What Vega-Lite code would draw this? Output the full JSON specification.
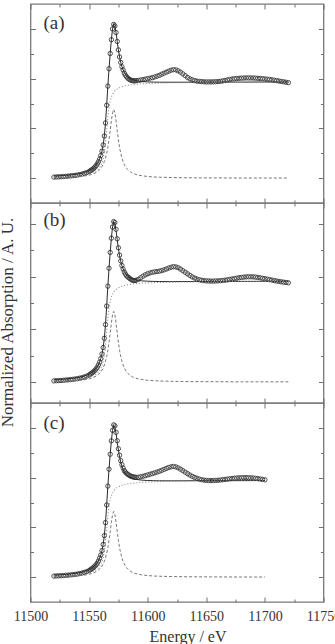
{
"$schema":"https://vega.github.io/schema/vega-lite/v6.json",
"padding":{"left":-3.5,"top":2,"right":0,"bottom":0},
"spacing":0,
"bounds":"flush",
"config":{"font":"Liberation Serif","view":{"stroke":"#7a7a7a","strokeWidth":1.3},"axis":{"labelFont":"Liberation Serif","titleFont":"Liberation Serif"}},
"datasets":{
"pts":[
{"p":"a","E":11520,"m":0.010},{"p":"a","E":11522,"m":0.012},{"p":"a","E":11524,"m":0.013},{"p":"a","E":11526,"m":0.014},{"p":"a","E":11528,"m":0.016},{"p":"a","E":11530,"m":0.018},{"p":"a","E":11532,"m":0.020},{"p":"a","E":11534,"m":0.022},{"p":"a","E":11536,"m":0.025},{"p":"a","E":11538,"m":0.028},{"p":"a","E":11540,"m":0.031},{"p":"a","E":11542,"m":0.036},{"p":"a","E":11544,"m":0.041},{"p":"a","E":11546,"m":0.048},{"p":"a","E":11548,"m":0.056},{"p":"a","E":11550,"m":0.066},{"p":"a","E":11551,"m":0.074},{"p":"a","E":11552,"m":0.082},{"p":"a","E":11553,"m":0.090},{"p":"a","E":11554,"m":0.100},{"p":"a","E":11555,"m":0.112},
{"p":"a","E":11556,"m":0.126},{"p":"a","E":11557,"m":0.143},{"p":"a","E":11558,"m":0.165},{"p":"a","E":11559,"m":0.192},{"p":"a","E":11560,"m":0.227},{"p":"a","E":11561,"m":0.271},{"p":"a","E":11562,"m":0.333},{"p":"a","E":11563,"m":0.423},{"p":"a","E":11564,"m":0.555},{"p":"a","E":11565,"m":0.733},{"p":"a","E":11566,"m":0.925},{"p":"a","E":11567,"m":1.099},{"p":"a","E":11568,"m":1.252},{"p":"a","E":11569,"m":1.391},{"p":"a","E":11570,"m":1.500},{"p":"a","E":11571,"m":1.545},{"p":"a","E":11572,"m":1.530},{"p":"a","E":11573,"m":1.463},{"p":"a","E":11574,"m":1.373},{"p":"a","E":11575,"m":1.289},{"p":"a","E":11576,"m":1.218},{"p":"a","E":11577,"m":1.162},{"p":"a","E":11578,"m":1.120},{"p":"a","E":11579,"m":1.087},{"p":"a","E":11580,"m":1.055},{"p":"a","E":11581,"m":1.035},{"p":"a","E":11582,"m":1.018},{"p":"a","E":11583,"m":1.005},{"p":"a","E":11584,"m":0.995},{"p":"a","E":11585,"m":0.988},{"p":"a","E":11586,"m":0.983},{"p":"a","E":11587,"m":0.980},{"p":"a","E":11588,"m":0.978},{"p":"a","E":11589,"m":0.978},{"p":"a","E":11590,"m":0.979},
{"p":"a","E":11592,"m":0.982},{"p":"a","E":11594,"m":0.986},{"p":"a","E":11596,"m":0.990},{"p":"a","E":11598,"m":0.995},{"p":"a","E":11600,"m":1.000},{"p":"a","E":11602,"m":1.005},{"p":"a","E":11604,"m":1.010},{"p":"a","E":11606,"m":1.017},{"p":"a","E":11608,"m":1.025},{"p":"a","E":11610,"m":1.033},{"p":"a","E":11612,"m":1.045},{"p":"a","E":11614,"m":1.055},{"p":"a","E":11616,"m":1.065},{"p":"a","E":11618,"m":1.075},{"p":"a","E":11620,"m":1.085},{"p":"a","E":11622,"m":1.090},{"p":"a","E":11624,"m":1.088},{"p":"a","E":11626,"m":1.078},{"p":"a","E":11628,"m":1.065},{"p":"a","E":11630,"m":1.048},{"p":"a","E":11632,"m":1.030},{"p":"a","E":11634,"m":1.012},{"p":"a","E":11636,"m":0.998},{"p":"a","E":11638,"m":0.988},{"p":"a","E":11640,"m":0.980},{"p":"a","E":11642,"m":0.975},{"p":"a","E":11644,"m":0.972},{"p":"a","E":11646,"m":0.970},{"p":"a","E":11648,"m":0.968},{"p":"a","E":11650,"m":0.967},{"p":"a","E":11652,"m":0.967},{"p":"a","E":11654,"m":0.967},{"p":"a","E":11656,"m":0.968},{"p":"a","E":11658,"m":0.969},{"p":"a","E":11660,"m":0.970},{"p":"a","E":11662,"m":0.973},{"p":"a","E":11664,"m":0.977},{"p":"a","E":11666,"m":0.982},{"p":"a","E":11668,"m":0.987},{"p":"a","E":11670,"m":0.992},{"p":"a","E":11672,"m":0.996},{"p":"a","E":11674,"m":0.999},{"p":"a","E":11676,"m":1.001},{"p":"a","E":11678,"m":1.003},{"p":"a","E":11680,"m":1.005},{"p":"a","E":11682,"m":1.006},{"p":"a","E":11684,"m":1.007},{"p":"a","E":11686,"m":1.007},{"p":"a","E":11688,"m":1.007},{"p":"a","E":11690,"m":1.006},{"p":"a","E":11692,"m":1.005},{"p":"a","E":11694,"m":1.003},{"p":"a","E":11696,"m":1.001},{"p":"a","E":11698,"m":0.999},{"p":"a","E":11700,"m":0.997},{"p":"a","E":11702,"m":0.994},{"p":"a","E":11704,"m":0.991},{"p":"a","E":11706,"m":0.988},{"p":"a","E":11708,"m":0.984},{"p":"a","E":11710,"m":0.980},{"p":"a","E":11712,"m":0.976},{"p":"a","E":11714,"m":0.972},{"p":"a","E":11716,"m":0.968},{"p":"a","E":11718,"m":0.964},{"p":"a","E":11720,"m":0.960},
{"p":"b","E":11520,"m":0.010},{"p":"b","E":11522,"m":0.012},{"p":"b","E":11524,"m":0.013},{"p":"b","E":11526,"m":0.014},{"p":"b","E":11528,"m":0.016},{"p":"b","E":11530,"m":0.018},{"p":"b","E":11532,"m":0.020},{"p":"b","E":11534,"m":0.022},{"p":"b","E":11536,"m":0.025},{"p":"b","E":11538,"m":0.028},{"p":"b","E":11540,"m":0.031},{"p":"b","E":11542,"m":0.036},{"p":"b","E":11544,"m":0.041},{"p":"b","E":11546,"m":0.048},{"p":"b","E":11548,"m":0.056},{"p":"b","E":11550,"m":0.066},{"p":"b","E":11551,"m":0.074},{"p":"b","E":11552,"m":0.082},{"p":"b","E":11553,"m":0.090},{"p":"b","E":11554,"m":0.100},{"p":"b","E":11555,"m":0.111},
{"p":"b","E":11556,"m":0.124},{"p":"b","E":11557,"m":0.140},{"p":"b","E":11558,"m":0.162},{"p":"b","E":11559,"m":0.188},{"p":"b","E":11560,"m":0.222},{"p":"b","E":11561,"m":0.266},{"p":"b","E":11562,"m":0.327},{"p":"b","E":11563,"m":0.415},{"p":"b","E":11564,"m":0.545},{"p":"b","E":11565,"m":0.721},{"p":"b","E":11566,"m":0.910},{"p":"b","E":11567,"m":1.080},{"p":"b","E":11568,"m":1.230},{"p":"b","E":11569,"m":1.366},{"p":"b","E":11570,"m":1.472},{"p":"b","E":11571,"m":1.523},{"p":"b","E":11572,"m":1.515},{"p":"b","E":11573,"m":1.450},{"p":"b","E":11574,"m":1.360},{"p":"b","E":11575,"m":1.275},{"p":"b","E":11576,"m":1.205},{"p":"b","E":11577,"m":1.150},{"p":"b","E":11578,"m":1.106},{"p":"b","E":11579,"m":1.073},{"p":"b","E":11580,"m":1.045},{"p":"b","E":11581,"m":1.025},{"p":"b","E":11582,"m":1.008},{"p":"b","E":11583,"m":0.997},{"p":"b","E":11584,"m":0.990},{"p":"b","E":11585,"m":0.980},{"p":"b","E":11586,"m":0.972},{"p":"b","E":11587,"m":0.966},{"p":"b","E":11588,"m":0.963},{"p":"b","E":11589,"m":0.963},{"p":"b","E":11590,"m":0.966},
{"p":"b","E":11592,"m":0.975},{"p":"b","E":11594,"m":0.990},{"p":"b","E":11596,"m":1.005},{"p":"b","E":11598,"m":1.018},{"p":"b","E":11600,"m":1.028},{"p":"b","E":11602,"m":1.036},{"p":"b","E":11604,"m":1.042},{"p":"b","E":11606,"m":1.046},{"p":"b","E":11608,"m":1.049},{"p":"b","E":11610,"m":1.053},{"p":"b","E":11612,"m":1.058},{"p":"b","E":11614,"m":1.065},{"p":"b","E":11616,"m":1.073},{"p":"b","E":11618,"m":1.082},{"p":"b","E":11620,"m":1.090},{"p":"b","E":11622,"m":1.095},{"p":"b","E":11624,"m":1.093},{"p":"b","E":11626,"m":1.085},{"p":"b","E":11628,"m":1.072},{"p":"b","E":11630,"m":1.057},{"p":"b","E":11632,"m":1.042},{"p":"b","E":11634,"m":1.027},{"p":"b","E":11636,"m":1.012},{"p":"b","E":11638,"m":0.998},{"p":"b","E":11640,"m":0.987},{"p":"b","E":11642,"m":0.978},{"p":"b","E":11644,"m":0.971},{"p":"b","E":11646,"m":0.966},{"p":"b","E":11648,"m":0.962},{"p":"b","E":11650,"m":0.960},{"p":"b","E":11652,"m":0.959},{"p":"b","E":11654,"m":0.958},{"p":"b","E":11656,"m":0.958},{"p":"b","E":11658,"m":0.959},{"p":"b","E":11660,"m":0.960},{"p":"b","E":11662,"m":0.962},{"p":"b","E":11664,"m":0.964},{"p":"b","E":11666,"m":0.967},{"p":"b","E":11668,"m":0.970},{"p":"b","E":11670,"m":0.974},{"p":"b","E":11672,"m":0.978},{"p":"b","E":11674,"m":0.982},{"p":"b","E":11676,"m":0.986},{"p":"b","E":11678,"m":0.990},{"p":"b","E":11680,"m":0.993},{"p":"b","E":11682,"m":0.996},{"p":"b","E":11684,"m":0.998},{"p":"b","E":11686,"m":0.999},{"p":"b","E":11688,"m":0.999},{"p":"b","E":11690,"m":0.998},{"p":"b","E":11692,"m":0.996},{"p":"b","E":11694,"m":0.993},{"p":"b","E":11696,"m":0.989},{"p":"b","E":11698,"m":0.985},{"p":"b","E":11700,"m":0.981},{"p":"b","E":11702,"m":0.977},{"p":"b","E":11704,"m":0.972},{"p":"b","E":11706,"m":0.968},{"p":"b","E":11708,"m":0.963},{"p":"b","E":11710,"m":0.959},{"p":"b","E":11712,"m":0.955},{"p":"b","E":11714,"m":0.951},{"p":"b","E":11716,"m":0.948},{"p":"b","E":11718,"m":0.945},{"p":"b","E":11720,"m":0.942},
{"p":"c","E":11520,"m":0.010},{"p":"c","E":11522,"m":0.012},{"p":"c","E":11524,"m":0.013},{"p":"c","E":11526,"m":0.014},{"p":"c","E":11528,"m":0.016},{"p":"c","E":11530,"m":0.018},{"p":"c","E":11532,"m":0.020},{"p":"c","E":11534,"m":0.022},{"p":"c","E":11536,"m":0.025},{"p":"c","E":11538,"m":0.028},{"p":"c","E":11540,"m":0.031},{"p":"c","E":11542,"m":0.036},{"p":"c","E":11544,"m":0.041},{"p":"c","E":11546,"m":0.048},{"p":"c","E":11548,"m":0.056},{"p":"c","E":11550,"m":0.066},{"p":"c","E":11551,"m":0.074},{"p":"c","E":11552,"m":0.082},{"p":"c","E":11553,"m":0.090},{"p":"c","E":11554,"m":0.100},{"p":"c","E":11555,"m":0.112},
{"p":"c","E":11556,"m":0.125},{"p":"c","E":11557,"m":0.141},{"p":"c","E":11558,"m":0.163},{"p":"c","E":11559,"m":0.190},{"p":"c","E":11560,"m":0.223},{"p":"c","E":11561,"m":0.267},{"p":"c","E":11562,"m":0.328},{"p":"c","E":11563,"m":0.417},{"p":"c","E":11564,"m":0.548},{"p":"c","E":11565,"m":0.725},{"p":"c","E":11566,"m":0.915},{"p":"c","E":11567,"m":1.085},{"p":"c","E":11568,"m":1.235},{"p":"c","E":11569,"m":1.370},{"p":"c","E":11570,"m":1.475},{"p":"c","E":11571,"m":1.530},{"p":"c","E":11572,"m":1.520},{"p":"c","E":11573,"m":1.455},{"p":"c","E":11574,"m":1.370},{"p":"c","E":11575,"m":1.290},{"p":"c","E":11576,"m":1.225},{"p":"c","E":11577,"m":1.170},{"p":"c","E":11578,"m":1.130},{"p":"c","E":11579,"m":1.097},{"p":"c","E":11580,"m":1.070},{"p":"c","E":11581,"m":1.055},{"p":"c","E":11582,"m":1.043},{"p":"c","E":11583,"m":1.033},{"p":"c","E":11584,"m":1.025},{"p":"c","E":11585,"m":1.018},{"p":"c","E":11586,"m":1.013},{"p":"c","E":11587,"m":1.009},{"p":"c","E":11588,"m":1.006},{"p":"c","E":11589,"m":1.004},{"p":"c","E":11590,"m":1.003},
{"p":"c","E":11592,"m":1.004},{"p":"c","E":11594,"m":1.008},{"p":"c","E":11596,"m":1.014},{"p":"c","E":11598,"m":1.020},{"p":"c","E":11600,"m":1.027},{"p":"c","E":11602,"m":1.034},{"p":"c","E":11604,"m":1.041},{"p":"c","E":11606,"m":1.048},{"p":"c","E":11608,"m":1.056},{"p":"c","E":11610,"m":1.064},{"p":"c","E":11612,"m":1.073},{"p":"c","E":11614,"m":1.083},{"p":"c","E":11616,"m":1.093},{"p":"c","E":11618,"m":1.102},{"p":"c","E":11620,"m":1.109},{"p":"c","E":11622,"m":1.112},{"p":"c","E":11624,"m":1.108},{"p":"c","E":11626,"m":1.098},{"p":"c","E":11628,"m":1.085},{"p":"c","E":11630,"m":1.070},{"p":"c","E":11632,"m":1.055},{"p":"c","E":11634,"m":1.040},{"p":"c","E":11636,"m":1.026},{"p":"c","E":11638,"m":1.013},{"p":"c","E":11640,"m":1.002},{"p":"c","E":11642,"m":0.993},{"p":"c","E":11644,"m":0.985},{"p":"c","E":11646,"m":0.979},{"p":"c","E":11648,"m":0.975},{"p":"c","E":11650,"m":0.972},{"p":"c","E":11652,"m":0.971},{"p":"c","E":11654,"m":0.970},{"p":"c","E":11656,"m":0.971},{"p":"c","E":11658,"m":0.972},{"p":"c","E":11660,"m":0.974},{"p":"c","E":11662,"m":0.976},{"p":"c","E":11664,"m":0.979},{"p":"c","E":11666,"m":0.982},{"p":"c","E":11668,"m":0.985},{"p":"c","E":11670,"m":0.988},{"p":"c","E":11672,"m":0.991},{"p":"c","E":11674,"m":0.994},{"p":"c","E":11676,"m":0.996},{"p":"c","E":11678,"m":0.998},{"p":"c","E":11680,"m":0.999},{"p":"c","E":11682,"m":1.000},{"p":"c","E":11684,"m":1.000},{"p":"c","E":11686,"m":0.999},{"p":"c","E":11688,"m":0.998},{"p":"c","E":11690,"m":0.996},{"p":"c","E":11692,"m":0.993},{"p":"c","E":11694,"m":0.990},{"p":"c","E":11696,"m":0.986},{"p":"c","E":11698,"m":0.982},{"p":"c","E":11700,"m":0.978}
],
"fit":[
{"p":"a","E":11520,"f":0.020,"s":0.015,"k":0.005},{"p":"a","E":11525,"f":0.024,"s":0.017,"k":0.007},{"p":"a","E":11530,"f":0.028,"s":0.019,"k":0.008},{"p":"a","E":11535,"f":0.033,"s":0.023,"k":0.011},{"p":"a","E":11540,"f":0.041,"s":0.027,"k":0.014},{"p":"a","E":11545,"f":0.054,"s":0.034,"k":0.020},{"p":"a","E":11550,"f":0.075,"s":0.045,"k":0.030},{"p":"a","E":11552,"f":0.088,"s":0.052,"k":0.037},{"p":"a","E":11554,"f":0.106,"s":0.061,"k":0.045},{"p":"a","E":11556,"f":0.131,"s":0.074,"k":0.057},{"p":"a","E":11557,"f":0.147,"s":0.083,"k":0.065},{"p":"a","E":11558,"f":0.168,"s":0.094,"k":0.074},{"p":"a","E":11559,"f":0.193,"s":0.108,"k":0.085},{"p":"a","E":11560,"f":0.227,"s":0.128,"k":0.099},{"p":"a","E":11561,"f":0.271,"s":0.155,"k":0.116},{"p":"a","E":11562,"f":0.333,"s":0.195,"k":0.138},{"p":"a","E":11563,"f":0.423,"s":0.257,"k":0.166},{"p":"a","E":11564,"f":0.555,"s":0.353,"k":0.202},{"p":"a","E":11565,"f":0.733,"s":0.485,"k":0.248},{"p":"a","E":11566,"f":0.925,"s":0.617,"k":0.308},{"p":"a","E":11567,"f":1.099,"s":0.713,"k":0.386},{"p":"a","E":11568,"f":1.252,"s":0.775,"k":0.478},{"p":"a","E":11569,"f":1.391,"s":0.815,"k":0.576},{"p":"a","E":11570,"f":1.500,"s":0.842,"k":0.658},{"p":"a","E":11571,"f":1.552,"s":0.862,"k":0.690},{"p":"a","E":11572,"f":1.534,"s":0.876,"k":0.658},{"p":"a","E":11573,"f":1.463,"s":0.887,"k":0.576},{"p":"a","E":11574,"f":1.373,"s":0.896,"k":0.478},{"p":"a","E":11575,"f":1.289,"s":0.903,"k":0.386},{"p":"a","E":11576,"f":1.218,"s":0.909,"k":0.308},{"p":"a","E":11577,"f":1.162,"s":0.914,"k":0.248},{"p":"a","E":11578,"f":1.120,"s":0.918,"k":0.202},{"p":"a","E":11579,"f":1.087,"s":0.922,"k":0.166},{"p":"a","E":11580,"f":1.063,"s":0.925,"k":0.138},{"p":"a","E":11581,"f":1.044,"s":0.928,"k":0.116},{"p":"a","E":11582,"f":1.029,"s":0.930,"k":0.099},{"p":"a","E":11583,"f":1.017,"s":0.933,"k":0.085},{"p":"a","E":11584,"f":1.008,"s":0.934,"k":0.074},{"p":"a","E":11585,"f":1.001,"s":0.936,"k":0.065},{"p":"a","E":11586,"f":0.995,"s":0.938,"k":0.057},{"p":"a","E":11587,"f":0.990,"s":0.939,"k":0.051},{"p":"a","E":11588,"f":0.986,"s":0.941,"k":0.045},{"p":"a","E":11589,"f":0.982,"s":0.942,"k":0.041},{"p":"a","E":11590,"f":0.980,"s":0.943,"k":0.037},{"p":"a","E":11592,"f":0.975,"s":0.945,"k":0.030},{"p":"a","E":11595,"f":0.971,"s":0.947,"k":0.024},{"p":"a","E":11600,"f":0.967,"s":0.951,"k":0.016},{"p":"a","E":11605,"f":0.965,"s":0.953,"k":0.012},{"p":"a","E":11610,"f":0.964,"s":0.955,"k":0.009},{"p":"a","E":11620,"f":0.964,"s":0.958,"k":0.006},{"p":"a","E":11630,"f":0.964,"s":0.960,"k":0.004},{"p":"a","E":11640,"f":0.964,"s":0.961,"k":0.003},{"p":"a","E":11660,"f":0.965,"s":0.963,"k":0.002},{"p":"a","E":11680,"f":0.965,"s":0.964,"k":0.001},{"p":"a","E":11700,"f":0.966,"s":0.965,"k":0.001},{"p":"a","E":11720,"f":0.966,"s":0.966,"k":0.001},
{"p":"b","E":11520,"f":0.020,"s":0.015,"k":0.005},{"p":"b","E":11525,"f":0.023,"s":0.017,"k":0.006},{"p":"b","E":11530,"f":0.027,"s":0.019,"k":0.008},{"p":"b","E":11535,"f":0.033,"s":0.022,"k":0.010},{"p":"b","E":11540,"f":0.041,"s":0.027,"k":0.014},{"p":"b","E":11545,"f":0.053,"s":0.034,"k":0.020},{"p":"b","E":11550,"f":0.074,"s":0.044,"k":0.029},{"p":"b","E":11552,"f":0.087,"s":0.051,"k":0.036},{"p":"b","E":11554,"f":0.104,"s":0.060,"k":0.044},{"p":"b","E":11556,"f":0.129,"s":0.073,"k":0.055},{"p":"b","E":11557,"f":0.145,"s":0.082,"k":0.063},{"p":"b","E":11558,"f":0.165,"s":0.093,"k":0.072},{"p":"b","E":11559,"f":0.190,"s":0.107,"k":0.082},{"p":"b","E":11560,"f":0.223,"s":0.127,"k":0.096},{"p":"b","E":11561,"f":0.266,"s":0.154,"k":0.113},{"p":"b","E":11562,"f":0.327,"s":0.193,"k":0.134},{"p":"b","E":11563,"f":0.415,"s":0.255,"k":0.161},{"p":"b","E":11564,"f":0.545,"s":0.350,"k":0.196},{"p":"b","E":11565,"f":0.721,"s":0.480,"k":0.241},{"p":"b","E":11566,"f":0.910,"s":0.610,"k":0.300},{"p":"b","E":11567,"f":1.080,"s":0.706,"k":0.375},{"p":"b","E":11568,"f":1.230,"s":0.767,"k":0.464},{"p":"b","E":11569,"f":1.366,"s":0.806,"k":0.560},{"p":"b","E":11570,"f":1.472,"s":0.833,"k":0.639},{"p":"b","E":11571,"f":1.523,"s":0.853,"k":0.670},{"p":"b","E":11572,"f":1.506,"s":0.867,"k":0.639},{"p":"b","E":11573,"f":1.438,"s":0.878,"k":0.560},{"p":"b","E":11574,"f":1.350,"s":0.887,"k":0.464},{"p":"b","E":11575,"f":1.268,"s":0.894,"k":0.375},{"p":"b","E":11576,"f":1.199,"s":0.900,"k":0.300},{"p":"b","E":11577,"f":1.146,"s":0.905,"k":0.241},{"p":"b","E":11578,"f":1.104,"s":0.909,"k":0.196},{"p":"b","E":11579,"f":1.073,"s":0.912,"k":0.161},{"p":"b","E":11580,"f":1.050,"s":0.916,"k":0.134},{"p":"b","E":11581,"f":1.031,"s":0.918,"k":0.113},{"p":"b","E":11582,"f":1.017,"s":0.921,"k":0.096},{"p":"b","E":11583,"f":1.005,"s":0.923,"k":0.082},{"p":"b","E":11584,"f":0.997,"s":0.925,"k":0.072},{"p":"b","E":11585,"f":0.989,"s":0.927,"k":0.063},{"p":"b","E":11586,"f":0.983,"s":0.928,"k":0.055},{"p":"b","E":11587,"f":0.979,"s":0.930,"k":0.049},{"p":"b","E":11588,"f":0.975,"s":0.931,"k":0.044},{"p":"b","E":11589,"f":0.972,"s":0.932,"k":0.039},{"p":"b","E":11590,"f":0.969,"s":0.933,"k":0.036},{"p":"b","E":11592,"f":0.965,"s":0.935,"k":0.029},{"p":"b","E":11595,"f":0.960,"s":0.938,"k":0.023},{"p":"b","E":11600,"f":0.957,"s":0.941,"k":0.016},{"p":"b","E":11605,"f":0.955,"s":0.943,"k":0.012},{"p":"b","E":11610,"f":0.954,"s":0.945,"k":0.009},{"p":"b","E":11620,"f":0.953,"s":0.948,"k":0.006},{"p":"b","E":11630,"f":0.954,"s":0.950,"k":0.004},{"p":"b","E":11640,"f":0.954,"s":0.951,"k":0.003},{"p":"b","E":11660,"f":0.955,"s":0.953,"k":0.002},{"p":"b","E":11680,"f":0.955,"s":0.954,"k":0.001},{"p":"b","E":11700,"f":0.956,"s":0.955,"k":0.001},{"p":"b","E":11720,"f":0.956,"s":0.956,"k":0.001},
{"p":"c","E":11520,"f":0.020,"s":0.015,"k":0.005},{"p":"c","E":11525,"f":0.023,"s":0.017,"k":0.006},{"p":"c","E":11530,"f":0.027,"s":0.020,"k":0.008},{"p":"c","E":11535,"f":0.033,"s":0.023,"k":0.010},{"p":"c","E":11540,"f":0.041,"s":0.027,"k":0.014},{"p":"c","E":11545,"f":0.053,"s":0.034,"k":0.019},{"p":"c","E":11550,"f":0.074,"s":0.045,"k":0.029},{"p":"c","E":11552,"f":0.087,"s":0.052,"k":0.035},{"p":"c","E":11554,"f":0.104,"s":0.061,"k":0.043},{"p":"c","E":11556,"f":0.129,"s":0.075,"k":0.055},{"p":"c","E":11557,"f":0.145,"s":0.083,"k":0.062},{"p":"c","E":11558,"f":0.165,"s":0.095,"k":0.071},{"p":"c","E":11559,"f":0.190,"s":0.109,"k":0.081},{"p":"c","E":11560,"f":0.223,"s":0.129,"k":0.094},{"p":"c","E":11561,"f":0.267,"s":0.156,"k":0.111},{"p":"c","E":11562,"f":0.328,"s":0.196,"k":0.132},{"p":"c","E":11563,"f":0.417,"s":0.259,"k":0.158},{"p":"c","E":11564,"f":0.548,"s":0.355,"k":0.193},{"p":"c","E":11565,"f":0.725,"s":0.488,"k":0.238},{"p":"c","E":11566,"f":0.915,"s":0.620,"k":0.295},{"p":"c","E":11567,"f":1.085,"s":0.717,"k":0.369},{"p":"c","E":11568,"f":1.235,"s":0.779,"k":0.457},{"p":"c","E":11569,"f":1.370,"s":0.819,"k":0.551},{"p":"c","E":11570,"f":1.475,"s":0.846,"k":0.629},{"p":"c","E":11571,"f":1.526,"s":0.866,"k":0.660},{"p":"c","E":11572,"f":1.510,"s":0.881,"k":0.629},{"p":"c","E":11573,"f":1.443,"s":0.892,"k":0.551},{"p":"c","E":11574,"f":1.357,"s":0.901,"k":0.457},{"p":"c","E":11575,"f":1.277,"s":0.908,"k":0.369},{"p":"c","E":11576,"f":1.209,"s":0.914,"k":0.295},{"p":"c","E":11577,"f":1.156,"s":0.919,"k":0.238},{"p":"c","E":11578,"f":1.116,"s":0.923,"k":0.193},{"p":"c","E":11579,"f":1.085,"s":0.927,"k":0.158},{"p":"c","E":11580,"f":1.062,"s":0.930,"k":0.132},{"p":"c","E":11581,"f":1.044,"s":0.933,"k":0.111},{"p":"c","E":11582,"f":1.030,"s":0.935,"k":0.094},{"p":"c","E":11583,"f":1.019,"s":0.937,"k":0.081},{"p":"c","E":11584,"f":1.010,"s":0.939,"k":0.071},{"p":"c","E":11585,"f":1.003,"s":0.941,"k":0.062},{"p":"c","E":11586,"f":0.997,"s":0.943,"k":0.055},{"p":"c","E":11587,"f":0.993,"s":0.944,"k":0.048},{"p":"c","E":11588,"f":0.989,"s":0.945,"k":0.043},{"p":"c","E":11589,"f":0.985,"s":0.947,"k":0.039},{"p":"c","E":11590,"f":0.983,"s":0.948,"k":0.035},{"p":"c","E":11592,"f":0.979,"s":0.950,"k":0.029},{"p":"c","E":11595,"f":0.975,"s":0.952,"k":0.022},{"p":"c","E":11600,"f":0.971,"s":0.956,"k":0.016},{"p":"c","E":11605,"f":0.969,"s":0.958,"k":0.011},{"p":"c","E":11610,"f":0.968,"s":0.960,"k":0.009},{"p":"c","E":11620,"f":0.968,"s":0.963,"k":0.006},{"p":"c","E":11630,"f":0.968,"s":0.965,"k":0.004},{"p":"c","E":11640,"f":0.969,"s":0.966,"k":0.003},{"p":"c","E":11660,"f":0.970,"s":0.968,"k":0.002},{"p":"c","E":11680,"f":0.970,"s":0.969,"k":0.001},{"p":"c","E":11700,"f":0.971,"s":0.970,"k":0.001}
],
"lab":[{"p":"a","E":11511,"v":1.56,"t":"(a)"},{"p":"b","E":11511,"v":1.54,"t":"(b)"},{"p":"c","E":11511,"v":1.55,"t":"(c)"}]
},
"vconcat":[
{"width":293,"height":199,
"resolve":{"axis":{"x":"independent","y":"independent"}},
"layer":[
{"data":{"name":"pts"},"transform":[{"filter":"datum.p=='a'"}],
"mark":{"type":"point","shape":"circle","filled":false,"size":19,"stroke":"#3c3c3c","strokeWidth":0.9,"opacity":1},
"encoding":{
"x":{"field":"E","type":"quantitative","scale":{"domain":[11500,11750],"nice":false,"zero":false},"axis":{"orient":"bottom","values":[11500,11525,11550,11575,11600,11625,11650,11675,11700,11725,11750],"labels":false,"domain":false,"grid":false,"title":null,"tickColor":"#707070","tickWidth":1,"tickSize":{"condition":{"test":"datum.value % 50 === 0","value":-5},"value":-3}}},
"y":{"field":"m","type":"quantitative","scale":{"domain":[-0.25,1.75],"nice":false,"zero":false},"axis":{"orient":"left","values":[0,0.25,0.5,0.75,1,1.25,1.5],"labels":false,"domain":false,"grid":false,"title":null,"tickColor":"#707070","tickWidth":1,"tickSize":{"condition":{"test":"(datum.value*4) % 2 === 0","value":-5},"value":-3}}}}},
{"data":{"name":"fit"},"transform":[{"filter":"datum.p=='a'"}],
"mark":{"type":"line","color":"#2a2a2a","strokeWidth":1},
"encoding":{
"x":{"field":"E","type":"quantitative","axis":{"orient":"top","values":[11500,11525,11550,11575,11600,11625,11650,11675,11700,11725,11750],"labels":false,"domain":false,"grid":false,"title":null,"tickColor":"#707070","tickWidth":1,"tickSize":{"condition":{"test":"datum.value % 50 === 0","value":-5},"value":-3}}},
"y":{"field":"f","type":"quantitative","axis":{"orient":"right","values":[0,0.25,0.5,0.75,1,1.25,1.5],"labels":false,"domain":false,"grid":false,"title":null,"tickColor":"#707070","tickWidth":1,"tickSize":{"condition":{"test":"(datum.value*4) % 2 === 0","value":-5},"value":-3}}}}},
{"data":{"name":"fit"},"transform":[{"filter":"datum.p=='a'"}],
"mark":{"type":"line","color":"#8a8a8a","strokeWidth":1.1,"strokeDash":[1,2]},
"encoding":{"x":{"field":"E","type":"quantitative","axis":null},"y":{"field":"s","type":"quantitative","axis":null}}},
{"data":{"name":"fit"},"transform":[{"filter":"datum.p=='a'"}],
"mark":{"type":"line","color":"#777777","strokeWidth":1,"strokeDash":[3,2]},
"encoding":{"x":{"field":"E","type":"quantitative","axis":null},"y":{"field":"k","type":"quantitative","axis":null}}},
{"data":{"name":"lab"},"transform":[{"filter":"datum.p=='a'"}],
"mark":{"type":"text","align":"left","baseline":"middle","font":"Liberation Serif","fontSize":19,"color":"#333333"},
"encoding":{"x":{"field":"E","type":"quantitative","axis":null},"y":{"field":"v","type":"quantitative","axis":null},"text":{"field":"t"}}}
]},
{"width":293,"height":200,
"resolve":{"axis":{"x":"independent","y":"independent"}},
"layer":[
{"data":{"name":"pts"},"transform":[{"filter":"datum.p=='b'"}],
"mark":{"type":"point","shape":"circle","filled":false,"size":19,"stroke":"#3c3c3c","strokeWidth":0.9,"opacity":1},
"encoding":{
"x":{"field":"E","type":"quantitative","scale":{"domain":[11500,11750],"nice":false,"zero":false},"axis":{"orient":"bottom","values":[11500,11525,11550,11575,11600,11625,11650,11675,11700,11725,11750],"labels":false,"domain":false,"grid":false,"title":null,"tickColor":"#707070","tickWidth":1,"tickSize":{"condition":{"test":"datum.value % 50 === 0","value":-5},"value":-3}}},
"y":{"field":"m","type":"quantitative","scale":{"domain":[-0.2,1.7],"nice":false,"zero":false},"axis":{"orient":"left","values":[0,0.25,0.5,0.75,1,1.25,1.5],"labels":false,"domain":false,"grid":false,"title":"Normalized Absorption / A. U.","titleFont":"Liberation Serif, serif","titleFontSize":17,"titleFontWeight":"normal","titleColor":"#333333","titlePadding":14,"titleY":119,"tickColor":"#707070","tickWidth":1,"tickSize":{"condition":{"test":"(datum.value*4) % 2 === 0","value":-5},"value":-3}}}}},
{"data":{"name":"fit"},"transform":[{"filter":"datum.p=='b'"}],
"mark":{"type":"line","color":"#2a2a2a","strokeWidth":1},
"encoding":{
"x":{"field":"E","type":"quantitative","axis":{"orient":"top","values":[11500,11525,11550,11575,11600,11625,11650,11675,11700,11725,11750],"labels":false,"domain":false,"grid":false,"title":null,"tickColor":"#707070","tickWidth":1,"tickSize":{"condition":{"test":"datum.value % 50 === 0","value":-5},"value":-3}}},
"y":{"field":"f","type":"quantitative","axis":{"orient":"right","values":[0,0.25,0.5,0.75,1,1.25,1.5],"labels":false,"domain":false,"grid":false,"title":null,"tickColor":"#707070","tickWidth":1,"tickSize":{"condition":{"test":"(datum.value*4) % 2 === 0","value":-5},"value":-3}}}}},
{"data":{"name":"fit"},"transform":[{"filter":"datum.p=='b'"}],
"mark":{"type":"line","color":"#8a8a8a","strokeWidth":1.1,"strokeDash":[1,2]},
"encoding":{"x":{"field":"E","type":"quantitative","axis":null},"y":{"field":"s","type":"quantitative","axis":null}}},
{"data":{"name":"fit"},"transform":[{"filter":"datum.p=='b'"}],
"mark":{"type":"line","color":"#777777","strokeWidth":1,"strokeDash":[3,2]},
"encoding":{"x":{"field":"E","type":"quantitative","axis":null},"y":{"field":"k","type":"quantitative","axis":null}}},
{"data":{"name":"lab"},"transform":[{"filter":"datum.p=='b'"}],
"mark":{"type":"text","align":"left","baseline":"middle","font":"Liberation Serif","fontSize":19,"color":"#333333"},
"encoding":{"x":{"field":"E","type":"quantitative","axis":null},"y":{"field":"v","type":"quantitative","axis":null},"text":{"field":"t"}}}
]},
{"width":293,"height":199,
"resolve":{"axis":{"x":"independent","y":"independent"}},
"layer":[
{"data":{"name":"pts"},"transform":[{"filter":"datum.p=='c'"}],
"mark":{"type":"point","shape":"circle","filled":false,"size":19,"stroke":"#3c3c3c","strokeWidth":0.9,"opacity":1},
"encoding":{
"x":{"field":"E","type":"quantitative","scale":{"domain":[11500,11750],"nice":false,"zero":false},"axis":{"orient":"bottom","values":[11500,11525,11550,11575,11600,11625,11650,11675,11700,11725,11750],"labels":true,"format":"d","labelExpr":"datum.value % 50 === 0 ? datum.label : ''","labelFlush":false,"labelOverlap":false,"labelFont":"Liberation Serif, serif","labelFontSize":14,"labelColor":"#333333","labelPadding":12,"domain":false,"grid":false,"title":"Energy / eV","titleFont":"Liberation Serif, serif","titleFontSize":16,"titleFontWeight":"normal","titleColor":"#333333","titlePadding":3,"titleX":157,"tickColor":"#707070","tickWidth":1,"tickSize":{"condition":{"test":"datum.value % 50 === 0","value":-5},"value":-3}}},
"y":{"field":"m","type":"quantitative","scale":{"domain":[-0.25,1.75],"nice":false,"zero":false},"axis":{"orient":"left","values":[0,0.25,0.5,0.75,1,1.25,1.5],"labels":false,"domain":false,"grid":false,"title":null,"tickColor":"#707070","tickWidth":1,"tickSize":{"condition":{"test":"(datum.value*4) % 2 === 0","value":-5},"value":-3}}}}},
{"data":{"name":"fit"},"transform":[{"filter":"datum.p=='c'"}],
"mark":{"type":"line","color":"#2a2a2a","strokeWidth":1},
"encoding":{
"x":{"field":"E","type":"quantitative","axis":{"orient":"top","values":[11500,11525,11550,11575,11600,11625,11650,11675,11700,11725,11750],"labels":false,"domain":false,"grid":false,"title":null,"tickColor":"#707070","tickWidth":1,"tickSize":{"condition":{"test":"datum.value % 50 === 0","value":-5},"value":-3}}},
"y":{"field":"f","type":"quantitative","axis":{"orient":"right","values":[0,0.25,0.5,0.75,1,1.25,1.5],"labels":false,"domain":false,"grid":false,"title":null,"tickColor":"#707070","tickWidth":1,"tickSize":{"condition":{"test":"(datum.value*4) % 2 === 0","value":-5},"value":-3}}}}},
{"data":{"name":"fit"},"transform":[{"filter":"datum.p=='c'"}],
"mark":{"type":"line","color":"#8a8a8a","strokeWidth":1.1,"strokeDash":[1,2]},
"encoding":{"x":{"field":"E","type":"quantitative","axis":null},"y":{"field":"s","type":"quantitative","axis":null}}},
{"data":{"name":"fit"},"transform":[{"filter":"datum.p=='c'"}],
"mark":{"type":"line","color":"#777777","strokeWidth":1,"strokeDash":[3,2]},
"encoding":{"x":{"field":"E","type":"quantitative","axis":null},"y":{"field":"k","type":"quantitative","axis":null}}},
{"data":{"name":"lab"},"transform":[{"filter":"datum.p=='c'"}],
"mark":{"type":"text","align":"left","baseline":"middle","font":"Liberation Serif","fontSize":19,"color":"#333333"},
"encoding":{"x":{"field":"E","type":"quantitative","axis":null},"y":{"field":"v","type":"quantitative","axis":null},"text":{"field":"t"}}}
]}
]
}
